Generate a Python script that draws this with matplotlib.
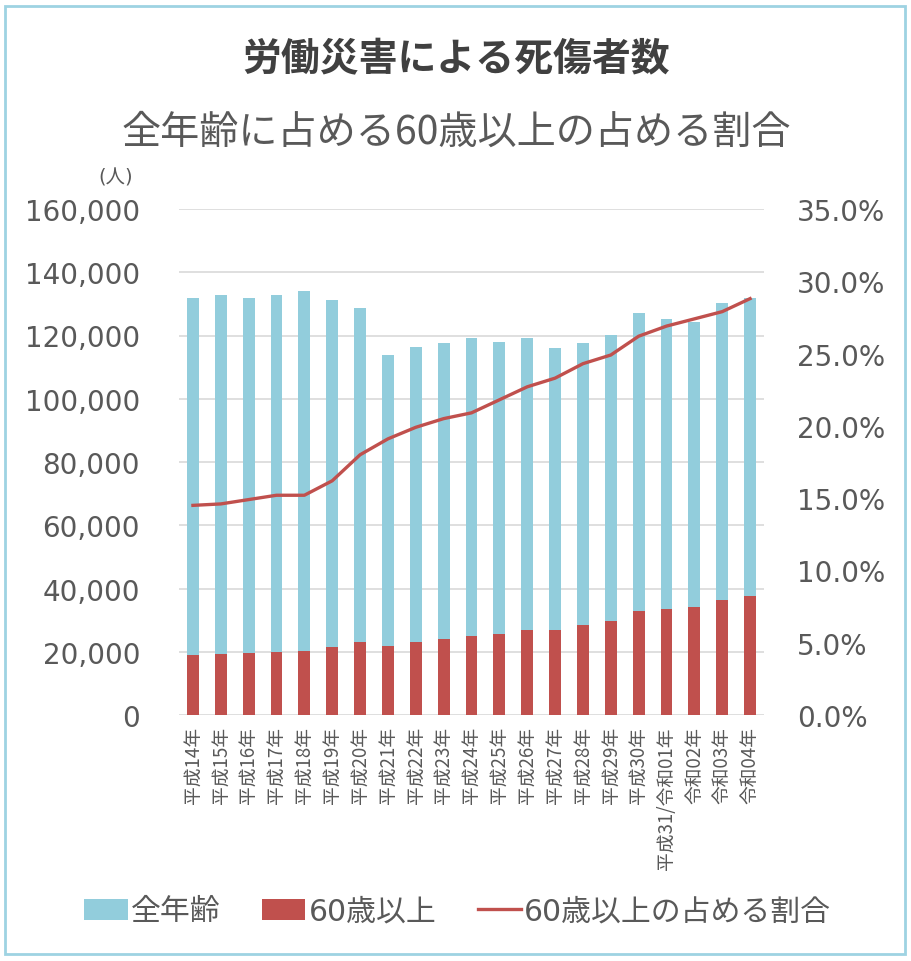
import matplotlib
matplotlib.use("Agg")
import matplotlib.pyplot as plt
from matplotlib.patches import Rectangle, Patch
from matplotlib.lines import Line2D
from matplotlib.ticker import FuncFormatter, MultipleLocator

plt.rcParams['font.family'] = ['DejaVu Sans', 'Noto Sans CJK JP']
CJK = ['Noto Sans CJK JP', 'DejaVu Sans']
MIX = ['DejaVu Sans', 'Noto Sans CJK JP']

categories = ['平成14年', '平成15年', '平成16年', '平成17年', '平成18年', '平成19年',
              '平成20年', '平成21年', '平成22年', '平成23年', '平成24年', '平成25年',
              '平成26年', '平成27年', '平成28年', '平成29年', '平成30年',
              '平成31/令和01年', '令和02年', '令和03年', '令和04年']
all_ages = [131970, 132800, 131970, 132800, 134060, 131120, 128590, 113840, 116370,
            117540, 119210, 117950, 119210, 115950, 117540, 120280, 127010, 125120,
            124270, 130170, 131970]
over60 = [18960, 19270, 19590, 20000, 20320, 21390, 23060, 21710, 23060, 24010,
          24870, 25590, 26950, 26860, 28440, 29790, 32950, 33490, 34030, 36240, 37690]
ratio_pct = [14.5, 14.6, 14.9, 15.2, 15.2, 16.2, 18.0, 19.1, 19.9, 20.5, 20.9,
             21.8, 22.7, 23.3, 24.3, 24.9, 26.2, 26.9, 27.4, 27.9, 28.8]

BLUE = '#92CDDC'
RED = '#C0504D'
GRAY = '#595959'

fig = plt.figure(figsize=(9.12, 9.62), dpi=100)
ax = fig.add_axes([179/912, 1-716/962, (764-179)/912, (716-210)/962])
ax2 = ax.twinx()

x = list(range(len(categories)))
ax.bar(x, all_ages, width=0.43, color=BLUE, zorder=2)
ax.bar(x, over60, width=0.43, color=RED, zorder=3)
ax2.plot(x, [v/100 for v in ratio_pct], color=RED, lw=2.4, zorder=4)

ax.set_xlim(-0.5, len(categories)-0.5)
ax.set_ylim(0, 160000)
ax.yaxis.set_major_locator(MultipleLocator(20000))
ax.yaxis.set_major_formatter(FuncFormatter(lambda v, p: f'{int(v):,}'))
ax2.set_ylim(0, 0.35)
ax2.yaxis.set_major_locator(MultipleLocator(0.05))
ax2.yaxis.set_major_formatter(FuncFormatter(lambda v, p: f'{v*100:.1f}%'))

ax.set_axisbelow(True)
ax.grid(axis='y', color='#D9D9D9', lw=1.2)
ax.grid(axis='x', visible=False)
for a in (ax, ax2):
    for s in a.spines.values():
        s.set_visible(False)
ax.tick_params(axis='y', length=0, pad=28, labelsize=20, labelcolor=GRAY)
ax2.tick_params(axis='y', length=0, pad=24, labelsize=20, labelcolor=GRAY)
ax.set_xticks(x)
ax.set_xticklabels(categories, rotation=90, fontsize=13.5, color=GRAY,
                   family=CJK, va='top', ha='center')
ax.tick_params(axis='x', length=0, pad=8)

fig.text(0.5, 1-60/962, '労働災害による死傷者数', ha='center', va='center',
         fontsize=28, fontweight='bold', color='#404040', family=CJK)
fig.text(0.5, 1-133/962, '全年齢に占める60歳以上の占める割合', ha='center', va='center',
         fontsize=28.2, color=GRAY, family=CJK)
fig.text(116/912, 1-178/962, '(人)', ha='center', va='center',
         fontsize=14, color=GRAY, family=MIX)

handles = [Patch(facecolor=BLUE, edgecolor='none'),
           Patch(facecolor=RED, edgecolor='none'),
           Line2D([0], [0], color=RED, lw=2.4)]
labels = ['全年齢', '60歳以上', '60歳以上の占める割合']
leg = fig.legend(handles, labels, loc='center', bbox_to_anchor=(0.502, 1-912/962),
                 ncol=3, frameon=False, fontsize=21.5, handlelength=1.45,
                 handleheight=0.7, handletextpad=0.1, columnspacing=1.4,
                 labelcolor=GRAY)
for t in leg.get_texts():
    t.set_family(MIX)

fig.patches.append(Rectangle((5/912, 7/962), 900/912, 948/962, transform=fig.transFigure,
                             fill=False, edgecolor='#9ED3E2', lw=2))

fig.savefig('out.png', dpi=100)
